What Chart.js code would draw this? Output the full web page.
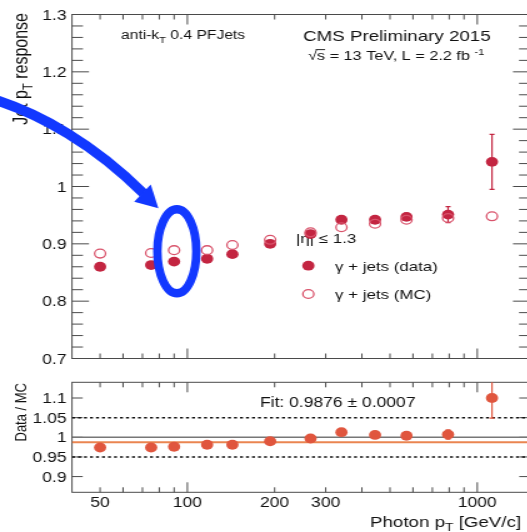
<!DOCTYPE html>
<html>
<head>
<meta charset="utf-8">
<script src="https://cdn.jsdelivr.net/npm/chart.js@4.4.0/dist/chart.umd.min.js"></script>
<style>
  html, body { margin: 0; padding: 0; background: #fff; overflow: hidden; width: 527px; height: 532px; }
  canvas { position: absolute; left: 0; top: 0; transform: scaleX(1.25); transform-origin: 0 0; }
</style>
</head>
<body>
<canvas id="ratioChart" width="440" height="532" style="width:440px;height:532px"></canvas>
<canvas id="mainChart" width="440" height="532" style="width:440px;height:532px"></canvas>
<script>
// the reference picture is stretched sideways, so both canvases are drawn narrow and scaled by CSS
const SX = 1.25;

const photonPt = [50, 75, 90, 117, 143, 193, 266, 340, 444, 570, 793, 1124];
const responseData = [0.860, 0.863, 0.869, 0.874, 0.882, 0.900, 0.917, 0.942, 0.942, 0.947, 0.951, 1.043];
const responseDataErr = [0.003, 0.003, 0.003, 0.003, 0.003, 0.003, 0.004, 0.004, 0.005, 0.006, 0.014, 0.048];
const responseMC = [0.883, 0.884, 0.889, 0.889, 0.898, 0.907, 0.920, 0.929, 0.935, 0.942, 0.945, 0.948];
const ratio = [0.974, 0.974, 0.976, 0.981, 0.981, 0.990, 0.997, 1.013, 1.006, 1.004, 1.007, 1.100];
const ratioErr = [0.003, 0.003, 0.003, 0.003, 0.003, 0.003, 0.004, 0.004, 0.005, 0.006, 0.012, 0.051];
const fitValue = 0.9876;
const unityLine = 1;
const bandLines = [0.95, 1.05];

const xRange = [40, 1520];
const xLabelTicks = [50, 100, 200, 300, 1000];
const xMajorTicks = [100, 1000];
const xMinorTicks = [50, 60, 70, 80, 90, 200, 300, 400, 500, 600, 700, 800, 900];
const respRange = [0.7, 1.3];
const respTicks = [0.7, 0.8, 0.9, 1, 1.1, 1.2, 1.3];
const ratioRange = [0.86, 1.14];
const ratioTicks = [0.9, 0.95, 1, 1.05, 1.1];

// where the hand-drawn blue ring sits (data coords)
const circledPt = 92;
const circledResp = 0.887;

const DATA_RED = '#c32541';
const MC_RED = '#d9536b';
const RATIO_RED = '#e0563e';
const FIT_ORANGE = '#ea8550';
const BLUE = '#1238ff';
const FONT = '"Liberation Sans", Arial, Helvetica, sans-serif';

const PLOT_L = 72 / SX;
const PLOT_R = 530 / SX;
const W = 440;
const H = 532;

function richText(ctx, parts, x, y, size, align) {
  const fontFor = (m) => `${(m === 'sub' || m === 'sup') ? Math.round(size * 0.7) : size}px ${FONT}`;
  let w = 0;
  parts.forEach(([t, m]) => { ctx.font = fontFor(m); w += ctx.measureText(t).width; });
  let cx = align === 'right' ? x - w : align === 'center' ? x - w / 2 : x;
  ctx.textAlign = 'left';
  ctx.textBaseline = 'alphabetic';
  parts.forEach(([t, m]) => {
    ctx.font = fontFor(m);
    const dy = m === 'sub' ? size * 0.28 : m === 'sup' ? -size * 0.42 : 0;
    ctx.fillText(t, cx, y + dy);
    const tw = ctx.measureText(t).width;
    if (m === 'over') {
      ctx.save();
      ctx.strokeStyle = ctx.fillStyle; ctx.lineWidth = 0.9;
      ctx.beginPath(); ctx.moveTo(cx - 1, y - size * 0.8); ctx.lineTo(cx + tw, y - size * 0.8); ctx.stroke();
      ctx.restore();
    }
    cx += tw;
  });
}

function rotatedText(ctx, parts, x, yTop, size) {
  ctx.save();
  ctx.translate(x, yTop);
  ctx.rotate(-Math.PI / 2);
  richText(ctx, parts, 0, 0, size, 'right');
  ctx.restore();
}

function drawFrame(chart, yMajor, yMinor, yMajorLen) {
  const { ctx, chartArea: a, scales: { x, y } } = chart;
  ctx.save();
  ctx.strokeStyle = '#4a4a4a';
  ctx.lineWidth = 1;
  ctx.strokeRect(a.left, a.top, a.right - a.left, a.bottom - a.top);
  ctx.beginPath();
  yMajor.forEach((v) => {
    const py = y.getPixelForValue(v);
    ctx.moveTo(a.left, py); ctx.lineTo(a.left + yMajorLen, py);
    ctx.moveTo(a.right, py); ctx.lineTo(a.right - yMajorLen, py);
  });
  yMinor.forEach((v) => {
    const py = y.getPixelForValue(v);
    ctx.moveTo(a.left, py); ctx.lineTo(a.left + 8.8, py);
    ctx.moveTo(a.right, py); ctx.lineTo(a.right - 8.8, py);
  });
  xMajorTicks.forEach((v) => {
    const px = x.getPixelForValue(v);
    ctx.moveTo(px, a.bottom); ctx.lineTo(px, a.bottom - 10);
    ctx.moveTo(px, a.top); ctx.lineTo(px, a.top + 10);
  });
  xMinorTicks.forEach((v) => {
    const px = x.getPixelForValue(v);
    ctx.moveTo(px, a.bottom); ctx.lineTo(px, a.bottom - 5);
    ctx.moveTo(px, a.top); ctx.lineTo(px, a.top + 5);
  });
  ctx.stroke();
  ctx.restore();
}

function drawErrors(chart, ys, errs, color) {
  const { ctx, chartArea: a, scales: { x, y } } = chart;
  ctx.save();
  ctx.beginPath(); ctx.rect(a.left, a.top, a.right - a.left, a.bottom - a.top); ctx.clip();
  ctx.strokeStyle = color;
  ctx.lineWidth = 1.2;
  ctx.beginPath();
  photonPt.forEach((v, i) => {
    const px = x.getPixelForValue(v);
    const lo = y.getPixelForValue(ys[i] - errs[i]);
    const hi = y.getPixelForValue(ys[i] + errs[i]);
    ctx.moveTo(px, lo); ctx.lineTo(px, hi);
    ctx.moveTo(px - 2, lo); ctx.lineTo(px + 2, lo);
    ctx.moveTo(px - 2, hi); ctx.lineTo(px + 2, hi);
  });
  ctx.stroke();
  ctx.restore();
}

function marker(ctx, px, py, filled) {
  ctx.beginPath();
  if (filled) {
    ctx.fillStyle = DATA_RED;
    ctx.arc(px, py, 4.9, 0, Math.PI * 2); ctx.fill();
  } else {
    ctx.strokeStyle = MC_RED; ctx.lineWidth = 1.3;
    ctx.arc(px, py, 4.4, 0, Math.PI * 2); ctx.stroke();
  }
}

const respMinor = [];
for (let i = 1; i < 30; i++) if (i % 5) respMinor.push(respRange[0] + i * 0.02);

const mainDecor = {
  id: 'mainDecor',
  beforeDatasetsDraw(chart) {
    const { ctx, chartArea: a, scales: { y } } = chart;
    drawFrame(chart, respTicks, respMinor, 13.6);
    ctx.save();
    ctx.fillStyle = '#111';
    respTicks.forEach((v) => richText(ctx, [[String(v), '']], a.left - 4.4, y.getPixelForValue(v) + 5, 14, 'right'));
    rotatedText(ctx, [['Jet p', ''], ['T', 'sub'], [' response', '']], 21.5, 13, 16);
    richText(ctx, [['anti-k', ''], ['T', 'sub'], [' 0.4 PFJets', '']], 96.8, 39, 12.5, 'left');
    richText(ctx, [['CMS Preliminary 2015', '']], 392.5, 41, 15, 'right');
    richText(ctx, [['\u221A', ''], ['s', 'over'], [' = 13 TeV, L = 2.2 fb ', ''], ['-1', 'sup']], 246.4, 60, 13, 'left');
    richText(ctx, [['|\u03B7| \u2264 1.3', '']], 236.8, 243, 13.5, 'left');
    marker(ctx, 246.7, 265.7, true);
    marker(ctx, 246.7, 294, false);
    ctx.fillStyle = '#111';
    richText(ctx, [['\u03B3 + jets (data)', '']], 268, 270.7, 13.5, 'left');
    richText(ctx, [['\u03B3 + jets (MC)', '']], 268, 299, 13.5, 'left');
    ctx.restore();
    drawErrors(chart, responseData, responseDataErr, DATA_RED);
  },
  afterDraw(chart) {
    const { ctx, scales: { x, y } } = chart;
    ctx.save();
    ctx.scale(1 / SX, 1); // draw the blue marks unstretched
    const cx = x.getPixelForValue(circledPt) * SX;
    const cy = y.getPixelForValue(circledResp);
    ctx.strokeStyle = BLUE;
    ctx.fillStyle = BLUE;
    ctx.lineWidth = 8.5;
    ctx.beginPath(); ctx.ellipse(cx, cy, 19.5, 42, 0, 0, Math.PI * 2); ctx.stroke();
    ctx.lineWidth = 10;
    ctx.beginPath();
    ctx.moveTo(cx - 186.5, cy - 153);
    ctx.bezierCurveTo(cx - 136.5, cy - 138, cx - 81.5, cy - 106, cx - 33.5, cy - 58);
    ctx.stroke();
    ctx.beginPath();
    ctx.moveTo(cx - 18.5, cy - 43);
    ctx.lineTo(cx - 42.7, cy - 49.5);
    ctx.lineTo(cx - 26.1, cy - 66.9);
    ctx.closePath();
    ctx.fill();
    ctx.restore();
  },
};

new Chart(document.getElementById('mainChart'), {
  type: 'scatter',
  data: {
    datasets: [
      {
        label: '\u03B3 + jets (data)',
        data: photonPt.map((v, i) => ({ x: v, y: responseData[i] })),
        pointRadius: 4.9, pointBackgroundColor: DATA_RED, pointBorderColor: DATA_RED, pointBorderWidth: 0,
        order: 2,
      },
      {
        label: '\u03B3 + jets (MC)',
        data: photonPt.map((v, i) => ({ x: v, y: responseMC[i] })),
        pointRadius: 4.4, pointBackgroundColor: 'rgba(0,0,0,0)', pointBorderColor: MC_RED, pointBorderWidth: 1.3,
        order: 1,
      },
    ],
  },
  options: {
    responsive: false, animation: false, devicePixelRatio: 1, events: [],
    layout: { padding: { left: PLOT_L, right: W - PLOT_R, top: 14.5, bottom: H - 358.5 } },
    plugins: { legend: { display: false }, tooltip: { enabled: false } },
    scales: {
      x: { type: 'logarithmic', min: xRange[0], max: xRange[1], display: false },
      y: { min: respRange[0], max: respRange[1], display: false },
    },
  },
  plugins: [mainDecor],
});

const ratioDecor = {
  id: 'ratioDecor',
  beforeDatasetsDraw(chart) {
    const { ctx, chartArea: a, scales: { x, y } } = chart;
    drawFrame(chart, ratioTicks, [], 8.6);
    ctx.save();
    ctx.fillStyle = '#111';
    ratioTicks.forEach((v) => richText(ctx, [[String(v), '']], a.left - 4.4, y.getPixelForValue(v) + 5, 14, 'right'));
    xLabelTicks.forEach((v) => richText(ctx, [[String(v), '']], x.getPixelForValue(v), 507, 14, 'center'));
    rotatedText(ctx, [['Data / MC', '']], 21.3, 383, 13);
    richText(ctx, [['Photon p', ''], ['T', 'sub'], [' [GeV/c]', '']], 296, 527, 15, 'left');
    richText(ctx, [['Fit: 0.9876 \u00B1 0.0007', '']], 208, 407, 14, 'left');
    ctx.restore();
  },
  afterDatasetsDraw(chart) {
    drawErrors(chart, ratio, ratioErr, RATIO_RED);
  },
};

const hline = (v) => [{ x: xRange[0], y: v }, { x: xRange[1], y: v }];

new Chart(document.getElementById('ratioChart'), {
  type: 'scatter',
  data: {
    datasets: [
      {
        label: 'Data / MC',
        data: photonPt.map((v, i) => ({ x: v, y: ratio[i] })),
        pointRadius: 4.9, pointBackgroundColor: RATIO_RED, pointBorderColor: RATIO_RED, pointBorderWidth: 0,
        order: 0,
      },
      { label: 'fit', data: hline(fitValue), showLine: true, pointRadius: 0, borderColor: FIT_ORANGE, borderWidth: 2, order: 1 },
      { label: 'unity', data: hline(unityLine), showLine: true, pointRadius: 0, borderColor: '#777', borderWidth: 1.5, order: 2 },
      ...bandLines.map((v) => ({
        label: 'band', data: hline(v), showLine: true, pointRadius: 0, borderColor: '#111', borderWidth: 1.5, borderDash: [2.4, 2.4], order: 3,
      })),
    ],
  },
  options: {
    responsive: false, animation: false, devicePixelRatio: 1, events: [],
    layout: { padding: { left: PLOT_L, right: W - PLOT_R, top: 382.3, bottom: H - 492.3 } },
    plugins: { legend: { display: false }, tooltip: { enabled: false } },
    scales: {
      x: { type: 'logarithmic', min: xRange[0], max: xRange[1], display: false },
      y: { min: ratioRange[0], max: ratioRange[1], display: false },
    },
  },
  plugins: [ratioDecor],
});
</script>
</body>
</html>
